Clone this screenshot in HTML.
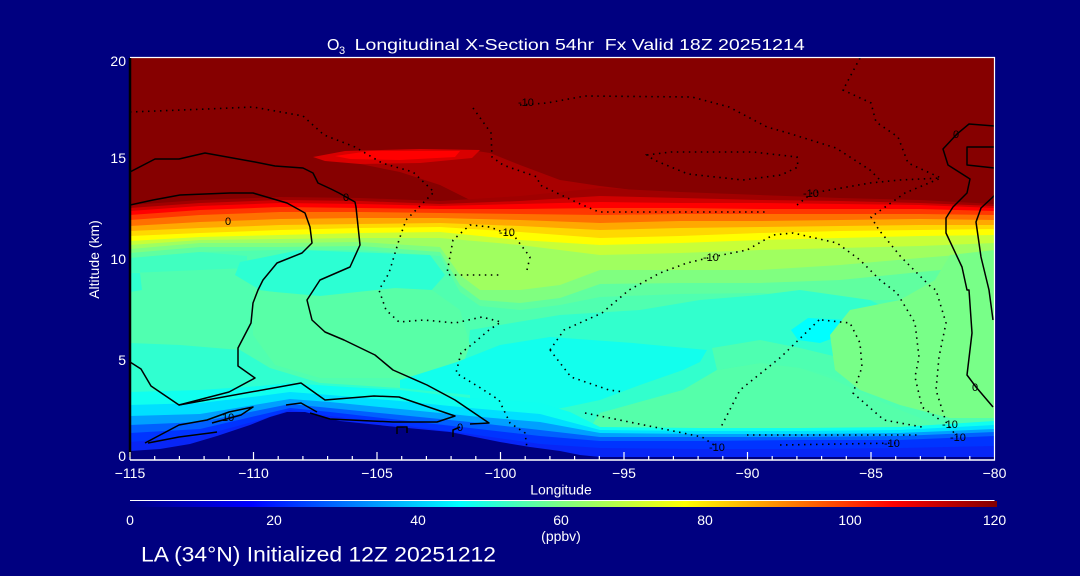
<!DOCTYPE html>
<html><head><meta charset="utf-8"><style>
html,body{margin:0;padding:0;background:#000080;}
svg{display:block;}
text{font-family:"Liberation Sans",sans-serif;fill:#fff;}
.c{fill:none;stroke:#000;stroke-width:1.5;stroke-linejoin:round;}
.d{fill:none;stroke:#000;stroke-width:1.6;stroke-dasharray:1.5 4.5;}
.lb{fill:#000;font-size:11px;}
</style></head><body>
<svg width="1080" height="576" viewBox="0 0 1080 576" xmlns="http://www.w3.org/2000/svg">
<defs>
<linearGradient id="cb" gradientUnits="userSpaceOnUse" x1="130" y1="0" x2="997" y2="0">
<stop offset="0" stop-color="#000080"/><stop offset="0.14" stop-color="#0000ff"/><stop offset="0.38" stop-color="#00ffff"/><stop offset="0.5" stop-color="#80ff80"/><stop offset="0.64" stop-color="#ffff00"/><stop offset="0.88" stop-color="#ff0000"/><stop offset="1" stop-color="#800000"/>
</linearGradient>
<clipPath id="clp"><rect x="130" y="58" width="864.5" height="399"/></clipPath>
</defs>
<rect width="1080" height="576" fill="#000080"/>
<g clip-path="url(#clp)">
<rect x="130" y="58" width="865" height="399" fill="#860000"/>
<polygon fill="#a80000" points="360,164 420,158 470,150 490,153 520,165 560,180 600,186 650,192 640,200 560,205 480,205 440,185 400,172"/>
<polygon fill="#d80000" points="313,157 345,151 420,149 480,150 472,158 420,163 360,164 325,161"/>
<polygon fill="#ff0000" points="335,156 370,151 460,151 455,157 400,160 350,159"/>
<polygon fill="#a00000" points="130,205 200,200 280,197 360,198 440,201 520,196 600,188 680,192 760,195 840,198 920,200 995,204 995,457 130,457"/>
<polygon fill="#d00000" points="130,208 200,203 280,200 360,201 440,204 520,201 600,196 680,198 760,200 840,201 920,203 995,206 995,457 130,457"/>
<polygon fill="#ff0000" points="130,211 200,206 280,203 360,204 440,206 520,204 600,202 680,203 760,203 840,204 920,205 995,208 995,457 130,457"/>
<polygon fill="#ff3800" points="130,215 200,210 280,207 360,208 440,209 520,209 600,208 680,208 760,209 840,209 920,209 995,211 995,457 130,457"/>
<polygon fill="#ff7000" points="130,220 200,215 280,212 360,212 440,213 520,214 600,215 680,214 760,214 840,214 920,214 995,215 995,457 130,457"/>
<polygon fill="#ffa800" points="130,226 200,222 280,219 360,218 440,218 520,220 600,223 680,221 760,221 840,220 920,219 995,220 995,457 130,457"/>
<polygon fill="#ffd800" points="130,231 200,228 280,225 360,224 440,223 520,226 600,230 680,228 760,227 840,226 920,225 995,225 995,457 130,457"/>
<polygon fill="#ffff00" points="130,236 200,233 280,230 360,228 440,227 520,232 600,238 680,236 760,233 840,231 920,230 995,229 995,457 130,457"/>
<polygon fill="#c8ff38" points="130,241 200,237 280,235 360,233 440,232 520,240 600,245 680,243 760,240 840,238 920,236 995,235 995,457 130,457"/>
<polygon fill="#a0ff60" points="130,245 200,240 280,239 360,238 440,238 520,245 600,255 680,253 760,250 840,248 920,246 995,243 995,457 130,457"/>
<polygon fill="#80ff80" points="130,249 200,243 280,243 360,242 440,247 460,275 480,290 520,290 560,285 600,270 680,270 760,270 840,265 920,258 995,252 995,457 130,457"/>
<polygon fill="#60ffa0" points="130,253 200,247 280,247 360,246 440,252 460,285 480,300 520,303 560,298 600,284 680,283 760,283 840,280 920,272 995,265 995,457 130,457"/>
<polygon fill="#50ffb0" points="130,258 200,252 280,250 360,250 440,256 460,292 480,306 520,310 560,305 600,297 680,294 760,293 840,300 920,300 995,300 995,457 130,457"/>
<polygon fill="#40ffc0" points="130,258 200,252 247,256 247,268 200,270 130,273"/>
<polygon fill="#30ffd0" points="130,273 140,273 142,290 130,292"/>
<polygon fill="#2cffd3" points="240,262 300,250 430,255 445,275 430,292 330,300 260,290 235,275"/>
<polygon fill="#32ffcd" points="470,330 560,315 640,310 700,300 760,295 800,290 870,300 930,330 935,350 880,355 830,360 760,363 717,370 683,390 600,413 590,428 400,428 400,388 455,380 468,350"/>
<polygon fill="#58ffa7" points="253,290 320,296 395,288 432,290 460,310 470,345 460,372 400,378 320,378 275,365 253,335"/>
<polygon fill="#12ffed" points="400,380 457,362 500,345 550,337 633,343 707,350 700,362 683,370 640,385 600,400 567,407 540,412 470,405 400,403"/>
<polygon fill="#4effb1" points="712,348 760,340 800,348 850,360 840,378 800,368 760,363 717,370"/>
<polygon fill="#00ffff" points="791,330 808,318 846,320 842,335 820,343 798,340"/>
<polygon fill="#78ff88" points="830,335 850,310 900,300 935,280 950,255 995,250 995,418 950,418 900,405 860,390 835,370"/>
<polygon fill="#55ffaa" points="590,428 600,413 683,390 717,370 760,363 800,368 830,378 860,392 900,410 930,422 930,430 590,430"/>
<polygon fill="#30ffd0" points="130,343 180,345 240,350 270,368 320,383 400,388 470,395 470,402 130,402"/>
<polygon fill="#10ffef" points="130,392 200,390 260,386 290,383 330,386 400,390 470,398 540,403 570,412 600,427 700,428 800,428 900,427 995,421 995,457 130,457"/>
<polygon fill="#00e0ff" points="130,405 200,403 260,396 290,392 330,395 400,401 470,408 540,414 600,430 700,431 800,431 900,430 995,425 995,457 130,457"/>
<polygon fill="#00a0ff" points="130,416 200,414 260,404 290,399 330,402 400,409 470,416 540,422 600,433 700,434 800,434 900,433 995,429 995,457 130,457"/>
<polygon fill="#0060ff" points="130,425 200,422 260,410 290,404 330,408 400,415 470,422 540,430 600,437 700,437 800,437 900,436 995,432 995,457 130,457"/>
<polygon fill="#0034ff" points="130,433 200,429 260,415 290,408 330,412 400,420 470,428 540,436 600,441 700,441 800,440 900,440 995,436 995,457 130,457"/>
<polygon fill="#0826f6" points="130,442 200,436 260,420 290,410 330,416 400,425 470,434 540,444 600,448 700,449 800,449 900,448 995,446 995,457 130,457"/>
<polygon fill="#000080" points="130,457 130,451 160,449 190,444 217,436 250,425 270,417 287,412 305,412 320,416 340,421 397,427 450,432 500,442 530,447 560,451 580,455 600,457"/>

<polyline class="c" points="130,172 155,159 179,159 205,153 255,162 275,166 303,168 313,173 318,183 331,189 339,193 355,202 356,207 360,245 350,267 320,280 307,300 312,320 325,332 344,340 375,355 393,370 427,385 455,400 489,423 470,424"/>
<polyline class="c" points="130,205 153,200 180,195 230,193 253,193 287,203 305,213 310,227 312,243 302,253 277,263 263,280 258,290 253,303 251,323 238,348 238,366 255,378 229,392 179,405 151,386 141,369 130,362"/>
<polyline class="c" points="179,405 301,383 325,400 374,396 399,397 455,416 437,422 393,422 330,419 310,413"/>
<polyline class="c" points="286,405 301,403 317,412"/>
<polyline class="c" points="145,443 179,425 207,420 229,412 253,407 241,415 212,423"/>
<polyline class="c" points="148,443 179,437 210,433 217,432"/>
<polyline class="c" points="397,434 397,427 407,427 407,433"/>
<polyline class="c" points="453,437 453,430 460,427"/>
<polyline class="c" points="995,126 969,124 957,134 943,149 948,165 970,179 967,193 953,207 946,218 946,233 962,267 967,290 969,290 972,333 967,375 976,387 993,407"/>
<polyline class="c" points="995,147 967,147 967,165 995,168"/>
<polyline class="c" points="995,195 981,208 976,222 981,257 989,290 993,320"/>

<polyline class="d" points="130,112 207,109 253,107 303,116 324,135 355,147 382,163 413,172 434,192 406,220 399,240 389,273 379,290 386,310 399,322 424,320 455,323 482,317 501,322 489,330 475,342 461,353 456,373 479,387 499,400 510,423 525,433 527,448"/>
<polyline class="d" points="520,105 547,103 585,96 692,97 729,107 767,127 788,133 836,148 870,170 880,180"/>
<polyline class="d" points="473,108 491,133 492,157 503,165 537,177 540,185 578,203 599,212 678,212 769,212"/>
<polyline class="d" points="797,205 812,193 830,190 870,183 900,180 941,178"/>
<polyline class="d" points="860,58 843,90 871,103 876,122 898,137 908,163 941,178 905,193 871,217 879,230 901,257 931,287 936,290 946,323 939,357 936,390 946,422 957,437"/>
<polygon class="d" points="647,155 671,152 753,152 797,157 798,167 781,175 743,180 688,174 654,160"/>
<polyline class="d" points="550,350 564,330 602,313 629,290 660,273 687,263 712,257 747,250 773,235 793,233 837,243 860,260 880,280 897,293 915,323 919,357 915,377 922,407 940,420"/>
<polyline class="d" points="550,350 571,377 609,390 624,392"/>
<polyline class="d" points="585,413 654,427 702,437 717,447"/>
<polyline class="d" points="822,320 850,323 860,343 862,367 853,393 884,420 922,427"/>
<polyline class="d" points="819,320 781,357 740,390 721,427"/>
<polyline class="d" points="747,435 919,435"/>
<polyline class="d" points="780,445 900,443"/>
<polyline class="d" points="527,270 530,257 515,237 490,227 470,225 453,240 447,273 450,275 500,275"/>
</g>
<text class="lb" x="343" y="201">0</text>
<text class="lb" x="225" y="225">0</text>
<text class="lb" x="518" y="106">-10</text>
<text class="lb" x="499" y="236">-10</text>
<text class="lb" x="703" y="261">-10</text>
<text class="lb" x="803" y="197">-10</text>
<text class="lb" x="953" y="138">0</text>
<text class="lb" x="972" y="391">0</text>
<text class="lb" x="222" y="421">10</text>
<text class="lb" x="457" y="431">0</text>
<text class="lb" x="709" y="451">-10</text>
<text class="lb" x="884" y="447">-10</text>
<text class="lb" x="942" y="428">-10</text>
<text class="lb" x="950" y="441">-10</text>

<line x1="130" y1="57.5" x2="995" y2="57.5" stroke="#fff" stroke-width="1.2"/>
<line x1="994.5" y1="57" x2="994.5" y2="460.5" stroke="#fff" stroke-width="1.2"/>
<line x1="130" y1="460" x2="995" y2="460" stroke="#fff" stroke-width="1.4"/>
<line x1="130" y1="58" x2="130" y2="457" stroke="#000" stroke-width="2.5"/>
<g stroke="#fff" stroke-width="1.2">
<line x1="130" y1="452" x2="130" y2="460"/><line x1="253.5" y1="452" x2="253.5" y2="460"/><line x1="377" y1="452" x2="377" y2="460"/><line x1="500.5" y1="452" x2="500.5" y2="460"/><line x1="624" y1="452" x2="624" y2="460"/><line x1="747.5" y1="452" x2="747.5" y2="460"/><line x1="871" y1="452" x2="871" y2="460"/>
<line x1="154.7" y1="456" x2="154.7" y2="460"/><line x1="179.4" y1="456" x2="179.4" y2="460"/><line x1="204.1" y1="456" x2="204.1" y2="460"/><line x1="228.8" y1="456" x2="228.8" y2="460"/>
<line x1="278.2" y1="456" x2="278.2" y2="460"/><line x1="302.9" y1="456" x2="302.9" y2="460"/><line x1="327.6" y1="456" x2="327.6" y2="460"/><line x1="352.3" y1="456" x2="352.3" y2="460"/>
<line x1="401.7" y1="456" x2="401.7" y2="460"/><line x1="426.4" y1="456" x2="426.4" y2="460"/><line x1="451.1" y1="456" x2="451.1" y2="460"/><line x1="475.8" y1="456" x2="475.8" y2="460"/>
<line x1="525.2" y1="456" x2="525.2" y2="460"/><line x1="549.9" y1="456" x2="549.9" y2="460"/><line x1="574.6" y1="456" x2="574.6" y2="460"/><line x1="599.3" y1="456" x2="599.3" y2="460"/>
<line x1="648.7" y1="456" x2="648.7" y2="460"/><line x1="673.4" y1="456" x2="673.4" y2="460"/><line x1="698.1" y1="456" x2="698.1" y2="460"/><line x1="722.8" y1="456" x2="722.8" y2="460"/>
<line x1="772.2" y1="456" x2="772.2" y2="460"/><line x1="796.9" y1="456" x2="796.9" y2="460"/><line x1="821.6" y1="456" x2="821.6" y2="460"/><line x1="846.3" y1="456" x2="846.3" y2="460"/>
<line x1="895.7" y1="456" x2="895.7" y2="460"/><line x1="920.4" y1="456" x2="920.4" y2="460"/><line x1="945.1" y1="456" x2="945.1" y2="460"/><line x1="969.8" y1="456" x2="969.8" y2="460"/>
</g>

<text x="327" y="50" font-size="16">O</text>
<text x="339" y="54" font-size="11">3</text>
<text x="354.7" y="50" font-size="16" textLength="450" lengthAdjust="spacingAndGlyphs" xml:space="preserve">Longitudinal X-Section 54hr  Fx Valid 18Z 20251214</text>

<g font-size="14" text-anchor="end">
<text x="126" y="66">20</text>
<text x="126" y="163">15</text>
<text x="126" y="264">10</text>
<text x="126" y="365">5</text>
<text x="126" y="461">0</text>
</g>
<g font-size="14" text-anchor="middle">
<text x="130" y="478">−115</text>
<text x="253.5" y="478">−110</text>
<text x="377" y="478">−105</text>
<text x="500.5" y="478">−100</text>
<text x="624" y="478">−95</text>
<text x="747.5" y="478">−90</text>
<text x="871" y="478">−85</text>
<text x="994.5" y="478">−80</text>
</g>
<text x="561" y="494.5" font-size="14" text-anchor="middle">Longitude</text>
<text transform="translate(99,259.5) rotate(-90)" font-size="14" text-anchor="middle">Altitude (km)</text>

<line x1="130" y1="500.5" x2="994.5" y2="500.5" stroke="#fff" stroke-width="1"/>
<rect x="130" y="501" width="867" height="6" fill="url(#cb)"/>
<g font-size="14" text-anchor="middle">
<text x="130" y="525">0</text>
<text x="274" y="525">20</text>
<text x="418" y="525">40</text>
<text x="561" y="525">60</text>
<text x="705" y="525">80</text>
<text x="850" y="525">100</text>
<text x="994.5" y="525">120</text>
<text x="561" y="541">(ppbv)</text>
</g>
<text x="141" y="561.7" font-size="21" textLength="355" lengthAdjust="spacingAndGlyphs">LA (34°N) Initialized 12Z 20251212</text>
</svg>
</body></html>
